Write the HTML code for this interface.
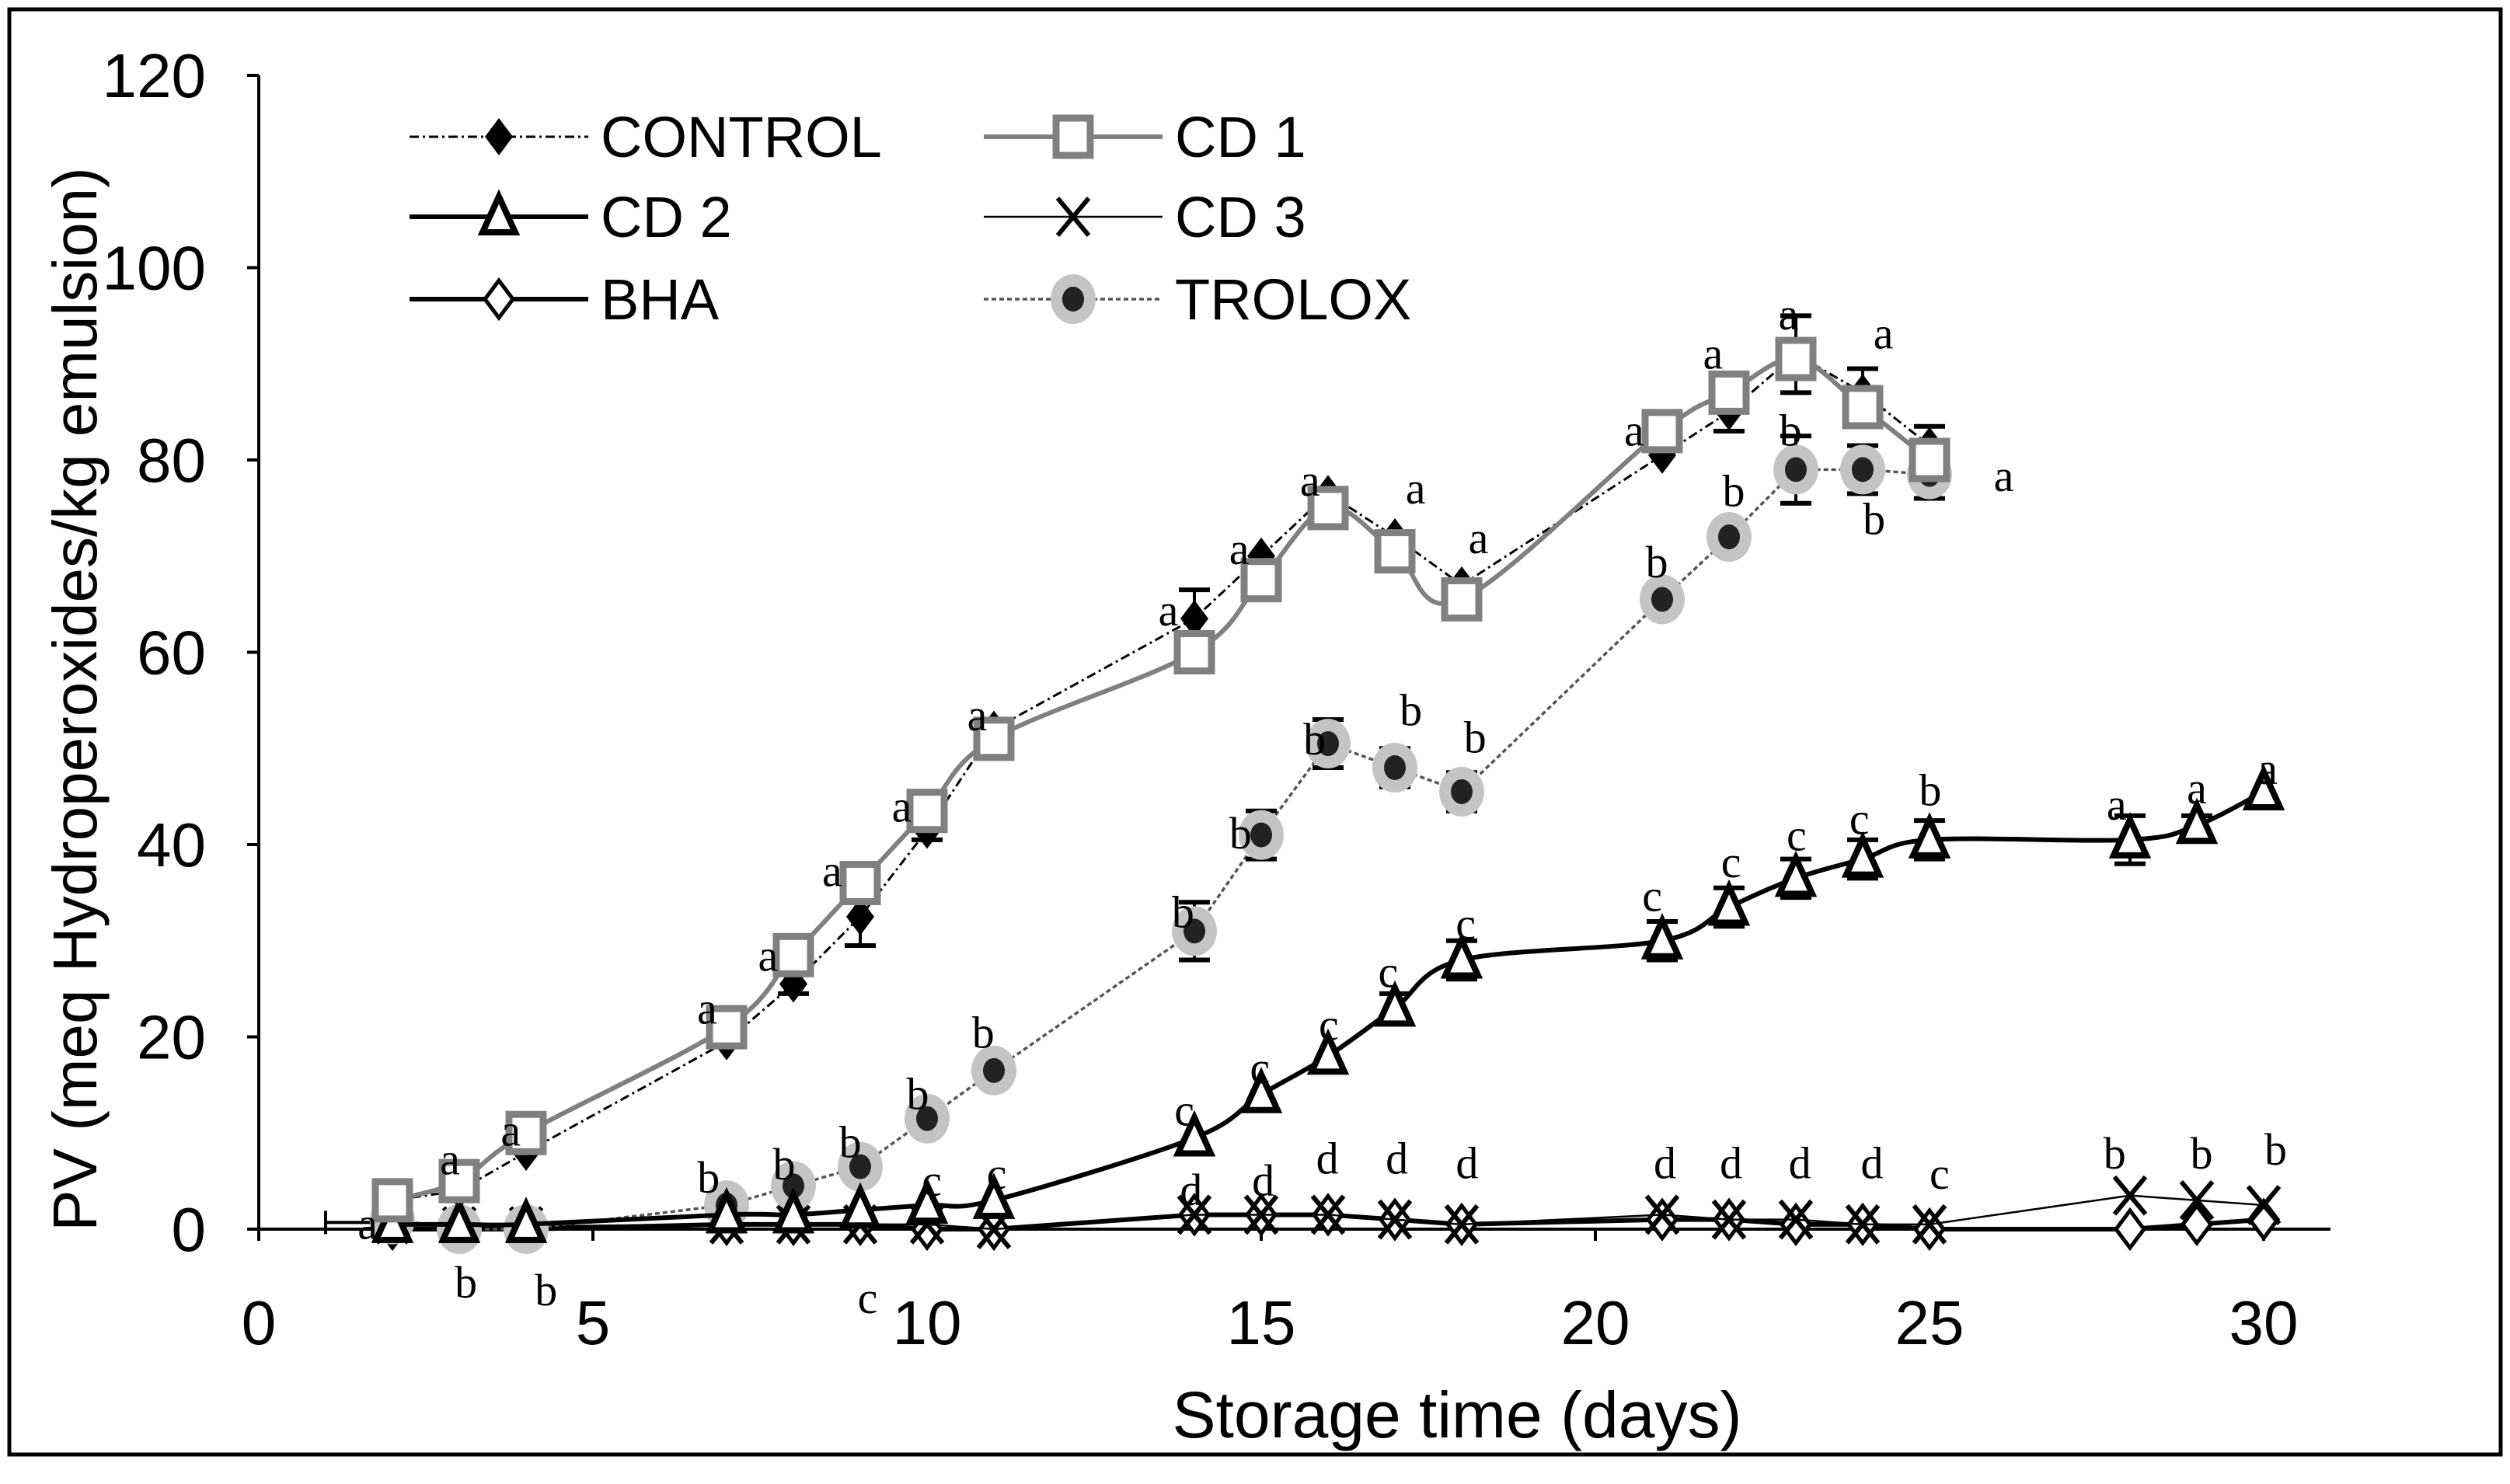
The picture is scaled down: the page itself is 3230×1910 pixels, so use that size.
<!DOCTYPE html>
<html><head><meta charset="utf-8"><style>
html,body{margin:0;padding:0;background:#fff}
svg{display:block}
text{font-family:"Liberation Sans",sans-serif}
.lt{font-family:"Liberation Serif",serif;font-size:58px}
</style></head><body>
<svg id="chart" width="3230" height="1910" xmlns="http://www.w3.org/2000/svg">
<rect x="12" y="12" width="3206" height="1860" fill="#fff" stroke="#000" stroke-width="5"/>
<g id="axes"></g>
<g id="series"></g>
<g id="letters"></g>
<g id="legend"></g>
</svg>
<script>
const xTicks=[0,5,10,15,20,25,30];
const yTicks=[0,20,40,60,80,100,120];
const daysA=[2,3,4,7,8,9,10,11,14,15,16,17,18,21,22,23,24,25];
const daysB=[2,3,4,7,8,9,10,11,14,15,16,17,18,21,22,23,24,25,28,29,30];
const control=[3,4,8,19.5,25.5,32.5,41.5,52,63.5,70,76.5,72,67,80.5,85,91,87,81.5];
const cd1=[3,5,10,21,28.5,36,43.5,51,60,67.5,75,70.5,65.5,83,87,90.5,85.5,80];
const cd2=[0.5,0.5,0.5,1.5,1.5,2,2.5,3,9.5,14,18,23,28,30,33.5,36.5,38.5,40.5,40.5,42,45.5];
const cd3=[0.5,0.3,0.3,0.5,0.5,0.5,0.5,0,1.5,1.5,1.5,1,0.5,1.5,1,1,0.5,0.5,3.5,3,2.5];
const bha=[0,0,0,0.5,0.5,0.5,0,0,1.5,1.5,1.5,1,0.5,1,1,0.5,0.5,0,0,0.5,1];
const trolox=[1,0,0,2.5,4.5,6.5,11.5,16.5,31,41,50.5,48,45.5,65.5,72,79,79,78.5];
const controlErr=[0,0,0,0,1,3,1,0,3,0,0,0,0,0,2,4,2.5,2];
const troloxErr=[0,0,0,0,0,0,0,0,3,2.5,2.5,2,2,0,0,3.5,2.5,2.5];
const cd2Err=[0,0,0,0,0,0,0,0,0,0,0,1.5,2,2,2,2,2,2,2.5,1,0];
const letterX=[1.63,2.86,3.77,6.71,7.62,8.58,9.62,10.75,13.61,14.67,15.73,17.31,18.25,20.58,21.76,22.89,24.31,26.11,
3.10,4.30,6.73,7.86,8.85,9.86,10.84,13.83,14.69,15.80,17.24,18.20,20.92,22.07,22.92,24.17,25.01,
9.11,10.07,11.04,13.85,14.98,16.01,16.90,18.06,20.85,22.03,23.01,23.95,
13.95,15.03,15.99,17.03,18.08,21.04,22.03,23.06,24.14,25.15,
27.77,29.07,30.18,27.80,29.0,30.06];
const letterY=[0.2,6.9,9.9,22.6,28.1,36.9,43.6,53.1,64.0,70.4,77.5,76.7,71.5,82.7,90.7,94.8,92.8,78.0,
-5.9,-6.7,5.0,6.4,8.7,13.7,20.1,32.6,40.8,50.6,53.6,50.8,69.0,76.4,82.7,73.5,45.3,
-7.5,4.7,5.4,12.0,16.4,20.9,26.4,31.4,34.3,37.8,40.6,42.3,
3.7,4.7,7.0,7.0,6.5,6.5,6.5,6.5,6.5,5.4,
7.5,7.5,7.9,43.8,45.5,47.5];
const letterT=["a","a","a","a","a","a","a","a","a","a","a","a","a","a","a","a","a","a",
"b","b","b","b","b","b","b","b","b","b","b","b","b","b","b","b","b",
"c","c","c","c","c","c","c","c","c","c","c","c",
"d","d","d","d","d","d","d","d","d","c",
"b","b","b","a","a","a"];
</script>
<script>
const NS='http://www.w3.org/2000/svg';
const X0=333,PX=86,Y0=1582,PY=12.375;
const sx=d=>X0+d*PX, sy=v=>Y0-v*PY;
function el(p,t,a){const e=document.createElementNS(NS,t);for(const k in a)e.setAttribute(k,a[k]);p.appendChild(e);return e;}
const axes=document.getElementById('axes');
let a=el(axes,'line',{x1:X0,y1:sy(120),x2:X0,y2:Y0+15,stroke:'#000','stroke-width':4});

a=el(axes,'line',{x1:X0-15,y1:Y0,x2:sx(31),y2:Y0,stroke:'#000','stroke-width':4});

yTicks.forEach(v=>{
 el(axes,'line',{x1:X0-15,y1:sy(v),x2:X0,y2:sy(v),stroke:'#000','stroke-width':4});
 const t=el(axes,'text',{x:X0-68,y:sy(v)+28,'font-size':80,'text-anchor':'end'});t.textContent=v;
 
});
xTicks.forEach(v=>{
 el(axes,'line',{x1:sx(v),y1:Y0,x2:sx(v),y2:Y0+15,stroke:'#000','stroke-width':4});
 const t=el(axes,'text',{x:sx(v),y:Y0+148,'font-size':80,'text-anchor':'middle'});t.textContent=v;
 
});
let t=el(axes,'text',{x:1875,y:1850,'font-size':84,'text-anchor':'middle'});t.textContent='Storage time (days)';

t=el(axes,'text',{x:0,y:0,'font-size':80,'text-anchor':'middle',transform:'translate(124,900) rotate(-90)'});t.textContent='PV (meq Hydroperoxides/kg emulsion)';

el(axes,'line',{x1:sx(1),y1:sy(0.7),x2:sx(2),y2:sy(0.7),stroke:'#000','stroke-width':4});
el(axes,'line',{x1:sx(1),y1:sy(0.7)-15,x2:sx(1),y2:sy(0.7)+15,stroke:'#000','stroke-width':4});

function pathD(xs,ys){return xs.map((x,i)=>(i?'L':'M')+sx(x)+','+sy(ys[i])).join('');}
function smoothD(xs,ys){const p=xs.map((x,i)=>[sx(x),sy(ys[i])]);let d='M'+p[0];for(let i=0;i<p.length-1;i++){const p0=p[i-1]||p[i],p1=p[i],p2=p[i+1],p3=p[i+2]||p2;const k=6;d+='C'+(p1[0]+(p2[0]-p0[0])/k)+','+(p1[1]+(p2[1]-p0[1])/k)+' '+(p2[0]-(p3[0]-p1[0])/k)+','+(p2[1]-(p3[1]-p1[1])/k)+' '+p2[0]+','+p2[1];}return d;}
const S=document.getElementById('series');
function errs(xs,ys,es,g){xs.forEach((x,i)=>{const e=es[i];if(!e)return;const cx=sx(x);el(g,'line',{x1:cx,y1:sy(ys[i]-e),x2:cx,y2:sy(ys[i]+e),stroke:'#000','stroke-width':4});[-e,e].forEach(s=>el(g,'line',{x1:cx-20,y1:sy(ys[i]+s),x2:cx+20,y2:sy(ys[i]+s),stroke:'#000','stroke-width':6}));});}
function marker(g,type,cx,cy){
 if(type==='diamond')el(g,'path',{d:`M${cx},${cy-24}L${cx+18},${cy}L${cx},${cy+24}L${cx-18},${cy}Z`,fill:'#000'});
 if(type==='square')el(g,'rect',{x:cx-22,y:cy-24,width:44,height:48,fill:'#fff',stroke:'#808080','stroke-width':9});
 if(type==='tri')el(g,'path',{d:`M${cx},${cy-26}L${cx+21},${cy+20}L${cx-21},${cy+20}Z`,fill:'#fff',stroke:'#000','stroke-width':8,'stroke-linejoin':'miter'});
 if(type==='x'){el(g,'path',{d:`M${cx-20},${cy-24}L${cx+20},${cy+24}M${cx+20},${cy-24}L${cx-20},${cy+24}`,stroke:'#000','stroke-width':6});}
 if(type==='odiamond')el(g,'path',{d:`M${cx},${cy-24}L${cx+18},${cy}L${cx},${cy+24}L${cx-18},${cy}Z`,fill:'#fff',stroke:'#000','stroke-width':5});
 if(type==='trolox'){el(g,'ellipse',{cx:cx,cy:cy,rx:29,ry:32,fill:'#c4c4c4'});el(g,'ellipse',{cx:cx,cy:cy,rx:14,ry:16,fill:'#222'});}
}
function series(name,xs,ys,line,smooth){
 const g=el(S,'g',{});
 const p=el(g,'path',Object.assign({d:smooth?smoothD(xs,ys):pathD(xs,ys),fill:'none'},line));
 
 return g;
}
function points(g,name,xs,ys,type){xs.forEach((x,i)=>{const m=el(g,'g',{});marker(m,type,sx(x),sy(ys[i]));});}
const gB=series('bha',daysB,bha,{stroke:'#000','stroke-width':6});
const gC3=series('cd3',daysB,cd3,{stroke:'#000','stroke-width':2.5});
const gT=series('trolox',daysA,trolox,{stroke:'#555','stroke-width':3.5,'stroke-dasharray':'6,4'});
const gC2=series('cd2',daysB,cd2,{stroke:'#000','stroke-width':6},true);
const gC=series('control',daysA,control,{stroke:'#000','stroke-width':3,'stroke-dasharray':'12,5,3,5'});
const gC1=series('cd1',daysA,cd1,{stroke:'#808080','stroke-width':6},true);
errs(daysA,control,controlErr,gC);errs(daysA,trolox,troloxErr,gT);errs(daysB,cd2,cd2Err,gC2);
points(gB,'bha',daysB,bha,'odiamond');points(gC3,'cd3',daysB,cd3,'x');
points(gC,'control',daysA,control,'diamond');points(gC2,'cd2',daysB,cd2,'tri');
points(gT,'trolox',daysA,trolox,'trolox');points(gC1,'cd1',daysA,cd1,'square');
const L=document.getElementById('letters');
letterT.forEach((s,i)=>{const e=el(L,'text',{x:sx(letterX[i]),y:sy(letterY[i])+15,'class':'lt','text-anchor':'middle'});e.textContent=s;
 });
const LG=document.getElementById('legend');
const leg=[['CONTROL','diamond',{stroke:'#000','stroke-width':3,'stroke-dasharray':'12,5,3,5'},527,176],
['CD 1','square',{stroke:'#808080','stroke-width':6},1266,176],
['CD 2','tri',{stroke:'#000','stroke-width':6},527,279],
['CD 3','x',{stroke:'#000','stroke-width':2.5},1266,279],
['BHA','odiamond',{stroke:'#000','stroke-width':6},527,385],
['TROLOX','trolox',{stroke:'#555','stroke-width':3.5,'stroke-dasharray':'6,4'},1266,385]];
leg.forEach(([n,ty,ls,x,y])=>{const g=el(LG,'g',{});
 el(g,'line',Object.assign({x1:x,y1:y,x2:x+230,y2:y},ls));marker(g,ty,x+115,y);
 const tt=el(g,'text',{x:x+246,y:y+26,'font-size':74});tt.textContent=n;});
</script>
</body></html>
